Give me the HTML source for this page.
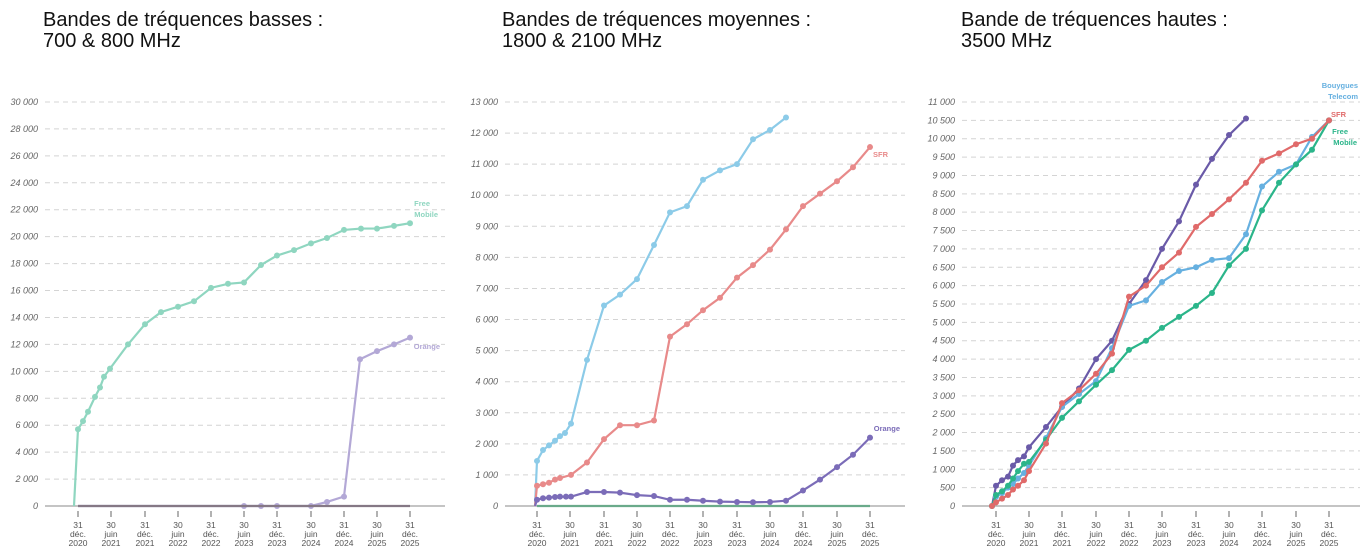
<!DOCTYPE html><html><head><meta charset="utf-8"><style>body{margin:0;background:#fff;width:1368px;height:558px;overflow:hidden;font-family:"Liberation Sans",sans-serif}
.t{position:absolute;font-size:20px;line-height:21px;color:#111}</style></head><body>
<div class="t" style="left:43px;top:10px">Bandes de tréquences basses :<br>700 &amp; 800 MHz</div>
<div class="t" style="left:502px;top:10px">Bandes de tréquences moyennes :<br>1800 &amp; 2100 MHz</div>
<div class="t" style="left:961px;top:10px">Bande de tréquences hautes :<br>3500 MHz</div>
<svg id="s" width="1368" height="558" style="position:absolute;left:0;top:0" font-family="Liberation Sans, sans-serif"></svg>
<script>
const s=document.getElementById('s');let h='';
function chart(c){
 const y=v=>506-v/c.max*404;
 for(let v=c.step;v<=c.max;v+=c.step){h+=`<line x1="${c.x0}" x2="${c.x1}" y1="${y(v)}" y2="${y(v)}" stroke="#d4d4d4" stroke-dasharray="5,4"/>`}
 for(let v=0;v<=c.max;v+=c.step){h+=`<text x="${c.lx}" y="${y(v)+3}" font-size="9" fill="#666" text-anchor="end" font-style="italic">${v==0?'0':v.toLocaleString('fr-FR').replace(/\s/g,' ')}</text>`}
 h+=`<line x1="${c.x0}" x2="${c.x1}" y1="506" y2="506" stroke="#888"/>`;
 c.ticks.forEach((x,i)=>{const a=i%2==0?['31','déc.']:['30','juin'];const yr=2020+Math.ceil(i/2);
  h+=`<line x1="${x}" x2="${x}" y1="511" y2="517" stroke="#666"/><text x="${x}" y="528" font-size="8.5" fill="#555" text-anchor="middle">${a[0]}</text><text x="${x}" y="537" font-size="8.5" fill="#555" text-anchor="middle">${a[1]}</text><text x="${x}" y="546" font-size="8.5" fill="#555" text-anchor="middle">${yr}</text>`});
 c.series.forEach(se=>{const p=se.d.map(d=>[d[1],y(d[0])]);
  h+=`<polyline points="${p.map(q=>q.join(',')).join(' ')}" fill="none" stroke="${se.c}" stroke-width="2.2"/>`;
  p.forEach((q,i)=>{if(!(se.skip&&i==0)&&!se.nodot)h+=`<circle cx="${q[0]}" cy="${q[1]}" r="3" fill="${se.c}"/>`});
  (se.lab||[]).forEach(l=>h+=`<text x="${l[0]}" y="${l[1]}" font-size="7.5" font-weight="bold" fill="${se.c}" text-anchor="end">${l[2]}</text>`)});
}
const r=(a,xs)=>a.map((v,i)=>[v,xs[i]]);
chart({max:30000,step:2000,x0:45,x1:445,lx:38,ticks:[78,111,145,178,211,244,277,311,344,377,410],series:[
 {c:'#8fd6c0',skip:1,d:r([0,5700,6300,7000,8100,8800,9600,10200,12000,13500,14400,14800,15200,16200,16500,16600,17900,18600,19000,19500,19900,20500,20600,20600,20800,21000],[74,78,83,88,95,100,104,110,128,145,161,178,194,211,228,244,261,277,294,311,327,344,361,377,394,410]),lab:[[430,206,'Free'],[438,217,'Mobile']]},
 {c:'#b3a8d6',skip:1,d:r([0,0,0,0,0,300,700,10900,11500,12000,12500],[78,244,261,277,311,327,344,360,377,394,410]),lab:[[440,349,'Orange']]},
 {c:'#857885',nodot:1,d:[[0,78],[0,410]]}
]});
chart({max:13000,step:1000,x0:505,x1:905,lx:498,ticks:[537,570,604,637,670,703,737,770,803,837,870],series:[
 {c:'#6aaa8a',nodot:1,d:[[0,537],[0,870]]},
 {c:'#8ccbe8',skip:1,d:r([0,1450,1800,1950,2100,2250,2350,2650,4700,6450,6800,7300,8400,9450,9650,10500,10800,11000,11800,12100,12500],[535,537,543,549,555,560,565,571,587,604,620,637,654,670,687,703,720,737,753,770,786])},
 {c:'#e88a8a',skip:1,d:r([0,650,700,750,850,900,1000,1400,2150,2600,2600,2750,5450,5850,6300,6700,7350,7750,8250,8900,9650,10050,10450,10900,11550],[535,537,543,549,555,560,571,587,604,620,637,654,670,687,703,720,737,753,770,786,803,820,837,853,870]),lab:[[888,157,'SFR']]},
 {c:'#7b6cb8',skip:1,d:r([0,200,250,270,290,300,300,300,450,450,430,350,320,200,200,170,140,130,120,130,170,500,850,1250,1650,2200],[535,537,543,549,555,560,566,571,587,604,620,637,654,670,687,703,720,737,753,770,786,803,820,837,853,870]),lab:[[900,431,'Orange']]}
]});
chart({max:11000,step:500,x0:962,x1:1360,lx:955,ticks:[996,1029,1062,1096,1129,1162,1196,1229,1262,1296,1329],series:[
 {c:'#6a5aa8',d:r([0,550,700,800,1100,1250,1350,1600,2150,2700,3200,4000,4500,5500,6150,7000,7750,8750,9450,10100,10550],[992,996,1002,1008,1013,1018,1024,1029,1046,1062,1079,1096,1112,1129,1146,1162,1179,1196,1212,1229,1246])},
 {c:'#66b0e0',d:r([0,250,350,500,600,750,900,1100,1850,2700,3050,3400,4300,5450,5600,6100,6400,6500,6700,6750,7400,8700,9100,9300,10050,10500],[992,996,1002,1008,1013,1018,1024,1029,1046,1062,1079,1096,1112,1129,1146,1162,1179,1196,1212,1229,1246,1262,1279,1296,1312,1329]),lab:[[1358,88,'Bouygues'],[1358,99,'Telecom']]},
 {c:'#2bb58a',d:r([0,300,400,550,750,950,1150,1200,1800,2400,2850,3300,3700,4250,4500,4850,5150,5450,5800,6550,7000,8050,8800,9300,9700,10500],[992,996,1002,1008,1013,1018,1024,1029,1046,1062,1079,1096,1112,1129,1146,1162,1179,1196,1212,1229,1246,1262,1279,1296,1312,1329]),lab:[[1348,134,'Free'],[1357,145,'Mobile']]},
 {c:'#e06a6a',d:r([0,100,200,300,450,550,700,950,1700,2800,3150,3600,4150,5700,6000,6500,6900,7600,7950,8350,8800,9400,9600,9850,10000,10500],[992,996,1002,1008,1013,1018,1024,1029,1046,1062,1079,1096,1112,1129,1146,1162,1179,1196,1212,1229,1246,1262,1279,1296,1312,1329]),lab:[[1346,117,'SFR']]}
]});
s.innerHTML=h;
</script></body></html>
